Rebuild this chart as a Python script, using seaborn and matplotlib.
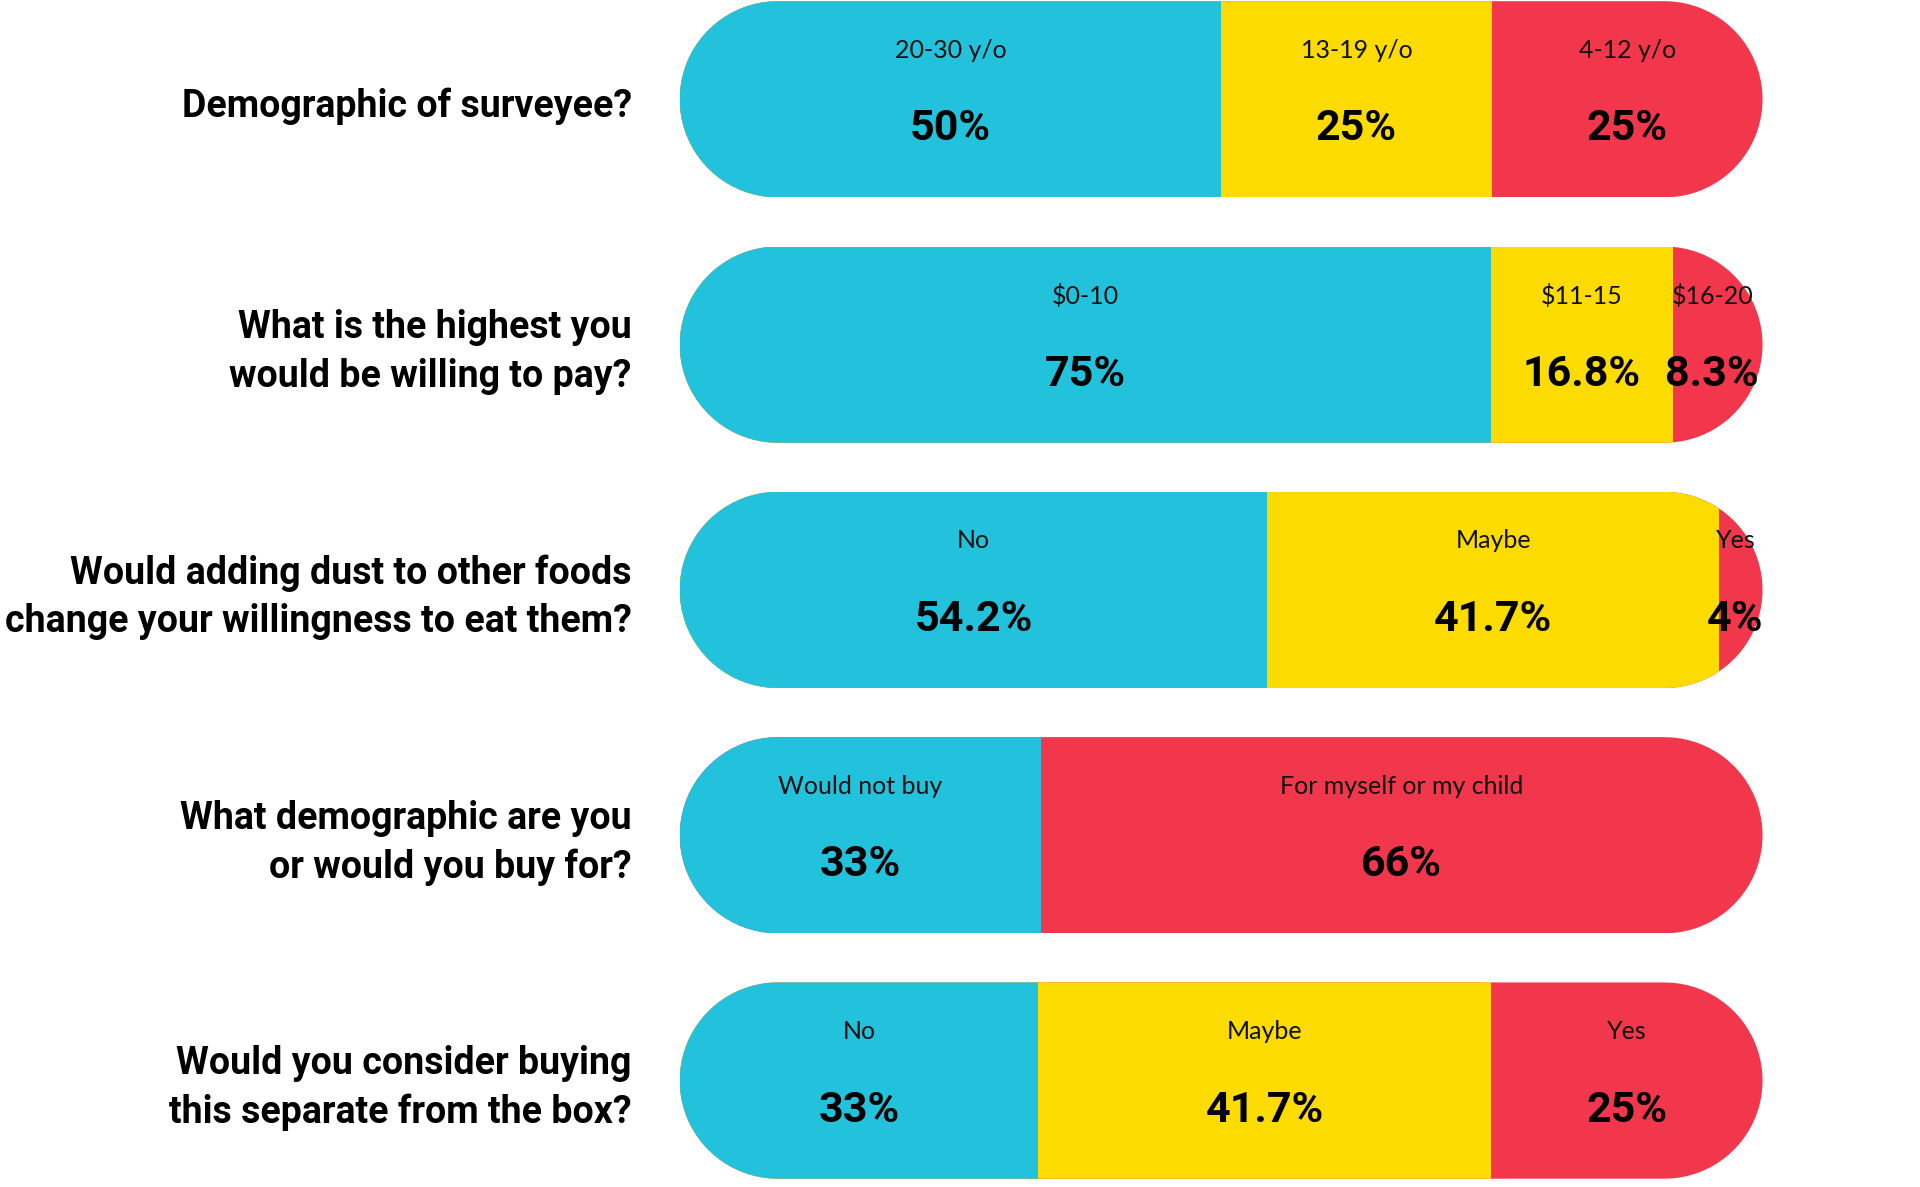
import numpy as np
import pandas as pd
import matplotlib
matplotlib.use("Agg")
import matplotlib.pyplot as plt
from matplotlib.path import Path
from matplotlib.patches import PathPatch
import seaborn as sns

questions = ["Demographic of surveyee?",
             "What is the highest you\nwould be willing to pay?",
             "Would adding dust to other foods\nchange your willingness to eat them?",
             "What demographic are you\nor would you buy for?",
             "Would you consider buying\nthis separate from the box?"]
seg_labels = [["20-30 y/o", "13-19 y/o", "4-12 y/o"],
              ["$0-10", "$11-15", "$16-20"],
              ["No", "Maybe", "Yes"],
              ["Would not buy", "For myself or my child"],
              ["No", "Maybe", "Yes"]]
seg_values = [[50, 25, 25],
              [75, 16.8, 8.3],
              [54.2, 41.7, 4],
              [33, 66],
              [33, 41.7, 25]]
seg_text = [["50%", "25%", "25%"],
            ["75%", "16.8%", "8.3%"],
            ["54.2%", "41.7%", "4%"],
            ["33%", "66%"],
            ["33%", "41.7%", "25%"]]
seg_colors = [["cyan", "yellow", "red"],
              ["cyan", "yellow", "red"],
              ["cyan", "yellow", "red"],
              ["cyan", "red"],
              ["cyan", "yellow", "red"]]
palette = {"cyan": "#22C1DC", "yellow": "#FBDB00", "red": "#F2364B"}

head_font = ["Roboto", "DejaVu Sans"]
label_font = ["Lato", "Open Sans", "DejaVu Sans"]

fig = plt.figure(figsize=(19.2, 11.87), dpi=100)
ax = fig.add_axes([0.354, 0.007, 0.564, 0.992])
ax.set_xlim(0, 100)
ax.set_ylim(4.4, -0.4)
ax.axis("off")

rows = []
for qi, vals in enumerate(seg_values):
    tot = sum(vals)
    cum = 0
    for si, v in enumerate(vals):
        cum += v / tot * 100
        rows.append(dict(q=qi, seg=si, cum=cum, color=seg_colors[qi][si]))
df = pd.DataFrame(rows)

fig.canvas.draw()
t = ax.transData
pxx = t.transform((1, 0))[0] - t.transform((0, 0))[0]
pxy = abs(t.transform((0, 1))[1] - t.transform((0, 0))[1])
h = 0.4
rx = h * pxy / pxx

clip_paths = []
for qi in range(len(questions)):
    th1 = np.linspace(np.pi / 2, 3 * np.pi / 2, 40)
    th2 = np.linspace(-np.pi / 2, np.pi / 2, 40)
    left = np.column_stack([rx + rx * np.cos(th1), qi - h * np.sin(th1)])
    right = np.column_stack([100 - rx + rx * np.cos(th2), qi - h * np.sin(th2)])
    pts = np.vstack([left, right, left[:1]])
    clip_paths.append(PathPatch(Path(pts), transform=ax.transData, fc="none", ec="none"))
    ax.add_patch(clip_paths[-1])

for si in sorted(df.seg.unique(), reverse=True):
    sub = df[df.seg == si]
    n0 = len(ax.patches)
    sns.barplot(data=sub, x="cum", y="q", orient="h", order=range(len(questions)),
                hue="color", palette=palette, width=0.8, dodge=False,
                legend=False, ax=ax, linewidth=0, saturation=1)
    for p in ax.patches[n0:]:
        y = p.get_y() + p.get_height() / 2
        qi = int(round(y))
        if 0 <= qi < len(clip_paths):
            p.set_clip_path(clip_paths[qi])

ax.set_xlim(0, 100)
ax.set_ylim(4.4, -0.4)
ax.axis("off")

for qi, vals in enumerate(seg_values):
    tot = sum(vals)
    start = 0
    for si, v in enumerate(vals):
        w = v / tot * 100
        cx = start + w / 2
        if si == len(vals) - 1 and w < 15:
            cx = start + w / 2 - 0.5
        ax.text(cx, qi - 0.2, seg_labels[qi][si], ha="center", va="center",
                fontsize=18, family=label_font, color="#111")
        ax.text(cx, qi + 0.12, seg_text[qi][si], ha="center", va="center",
                fontsize=31, family=head_font, fontweight="bold",
                color="black")
        start += w
    fig.text(0.329, 1 - (0.0072 + (qi + 0.4) * 0.992 / 4.8), questions[qi],
             ha="right", va="center", fontsize=27, family=head_font,
             fontweight="bold", linespacing=1.4)

fig.savefig("out.png", dpi=100, facecolor="white")
